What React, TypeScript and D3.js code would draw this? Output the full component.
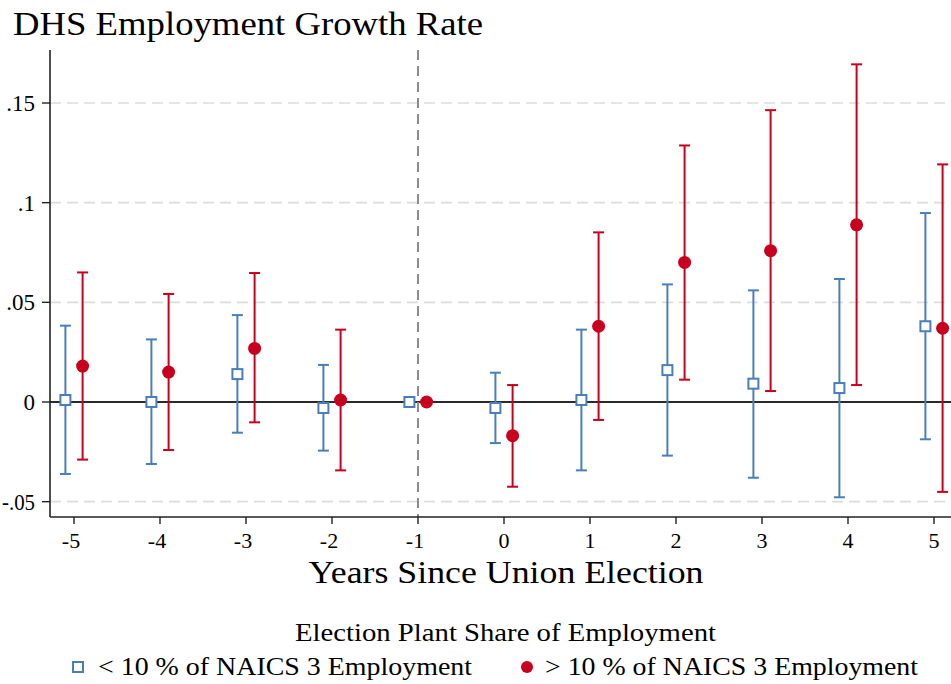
import React from "react";
import * as d3 from "d3";

const years = [-5, -4, -3, -2, -1, 0, 1, 2, 3, 4, 5];
const lowEst = [0.001, 0.0, 0.014, -0.003, 0.0, -0.003, 0.001, 0.016, 0.0092, 0.007, 0.038];
const lowUpper = [0.0383, 0.0314, 0.0436, 0.0186, null, 0.0147, 0.0363, 0.059, 0.056, 0.0617, 0.0948];
const lowLower = [-0.0361, -0.0311, -0.0154, -0.0244, null, -0.0206, -0.0343, -0.0269, -0.038, -0.0478, -0.0187];
const highEst = [0.018, 0.015, 0.0269, 0.001, 0.0, -0.0169, 0.038, 0.07, 0.0759, 0.0889, 0.037];
const highUpper = [0.065, 0.0542, 0.0647, 0.0363, null, 0.0085, 0.0851, 0.1287, 0.1464, 0.1694, 0.1192];
const highLower = [-0.0289, -0.0241, -0.0102, -0.0343, null, -0.0425, -0.009, 0.0112, 0.0055, 0.0085, -0.0451];
const yTicks = [-0.05, 0, 0.05, 0.1, 0.15];
const yTickLabels = ["-.05", "0", ".05", ".1", ".15"];
const gridTicks = [-0.05, 0.05, 0.1, 0.15];

const title = "DHS Employment Growth Rate";
const xTitle = "Years Since Union Election";
const legendTitle = "Election Plant Share of Employment";
const legendLabels = ["< 10 % of NAICS 3 Employment", "> 10 % of NAICS 3 Employment"];

const BLUE = "#4a7ebb";
const RED = "#c8001e";
const FONT = '"Liberation Serif", "DejaVu Serif", serif';
const tx = { fontFamily: FONT } as React.CSSProperties;

export default function App() {
  const W = 951, H = 684;
  const left = 50, top = 50, bottom = 517, right = 951;
  const x = d3.scaleLinear().domain([-5, 5]).range([74, 934]);
  const y = d3.scaleLinear().domain([0, 0.15]).range([402, 103]);
  const off = 0.1;
  const cap = 5.5;

  const bars = (est: number[], up: (number | null)[], lo: (number | null)[], shift: number, color: string, kind: string) =>
    years.map((yr, i) => {
      const cx = x(yr + shift);
      const u = up[i], l = lo[i];
      return (
        <g key={kind + i}>
          {u != null && l != null && (
            <g stroke={color} strokeWidth={2}>
              <line x1={cx} x2={cx} y1={y(u)} y2={y(l)} />
              <line x1={cx - cap} x2={cx + cap} y1={y(u)} y2={y(u)} />
              <line x1={cx - cap} x2={cx + cap} y1={y(l)} y2={y(l)} />
            </g>
          )}
          {kind === "sq" ? (
            <rect x={cx - 5} y={y(est[i]) - 5} width={10} height={10} fill="white" stroke={color} strokeWidth={2} />
          ) : (
            <circle cx={cx} cy={y(est[i])} r={6.5} fill={color} />
          )}
        </g>
      );
    });

  return (
    <svg width={W} height={H} style={{ position: "absolute", left: 0, top: 0, background: "white", fontFamily: FONT }}>
      <rect x={0} y={0} width={W} height={H} fill="white" />
      <text style={tx} x={13} y={35} fontSize={33} textLength={470} lengthAdjust="spacingAndGlyphs" fill="#000">{title}</text>

      {gridTicks.map((t) => (
        <line key={"g" + t} x1={left} x2={right} y1={y(t)} y2={y(t)} stroke="#dcdcdc" strokeWidth={1.6} strokeDasharray="11,6" />
      ))}
      <line x1={left} x2={right} y1={y(0)} y2={y(0)} stroke="#2a2a2a" strokeWidth={2} />
      <line x1={x(-1)} x2={x(-1)} y1={top} y2={bottom} stroke="#8c8c8c" strokeWidth={2} strokeDasharray="10,6" />

      {bars(lowEst, lowUpper, lowLower, -off, BLUE, "sq")}
      {bars(highEst, highUpper, highLower, off, RED, "ci")}

      <line x1={left} x2={left} y1={top} y2={bottom} stroke="#222" strokeWidth={1.6} />
      <line x1={left} x2={right} y1={bottom} y2={bottom} stroke="#222" strokeWidth={1.6} />
      {yTicks.map((t, i) => (
        <g key={"yt" + t}>
          <line x1={left - 8} x2={left} y1={y(t)} y2={y(t)} stroke="#222" strokeWidth={1.4} />
          <text style={tx} x={35} y={y(t)} dy="0.35em" textAnchor="end" fontSize={23}
            textLength={t < 0 ? 33 : undefined} lengthAdjust="spacingAndGlyphs">{yTickLabels[i]}</text>
        </g>
      ))}
      {years.map((t) => (
        <g key={"xt" + t}>
          <line x1={x(t)} x2={x(t)} y1={bottom} y2={bottom + 7} stroke="#222" strokeWidth={1.4} />
          <text style={tx} x={x(t) - (t < 0 ? 3 : 0)} y={548} textAnchor="middle" fontSize={22}>{String(t)}</text>
        </g>
      ))}
      <text style={tx} x={506} y={583} textAnchor="middle" fontSize={31} textLength={395} lengthAdjust="spacingAndGlyphs">{xTitle}</text>

      <text style={tx} x={505.5} y={641} textAnchor="middle" fontSize={26} textLength={421} lengthAdjust="spacingAndGlyphs">{legendTitle}</text>
      <rect x={73} y={662} width={10} height={10} fill="white" stroke={BLUE} strokeWidth={2} />
      <text style={tx} x={98} y={675} fontSize={26} textLength={374} lengthAdjust="spacingAndGlyphs">{legendLabels[0]}</text>
      <circle cx={527} cy={667} r={6} fill={RED} />
      <text style={tx} x={545} y={675} fontSize={26} textLength={373} lengthAdjust="spacingAndGlyphs">{legendLabels[1]}</text>
    </svg>
  );
}
